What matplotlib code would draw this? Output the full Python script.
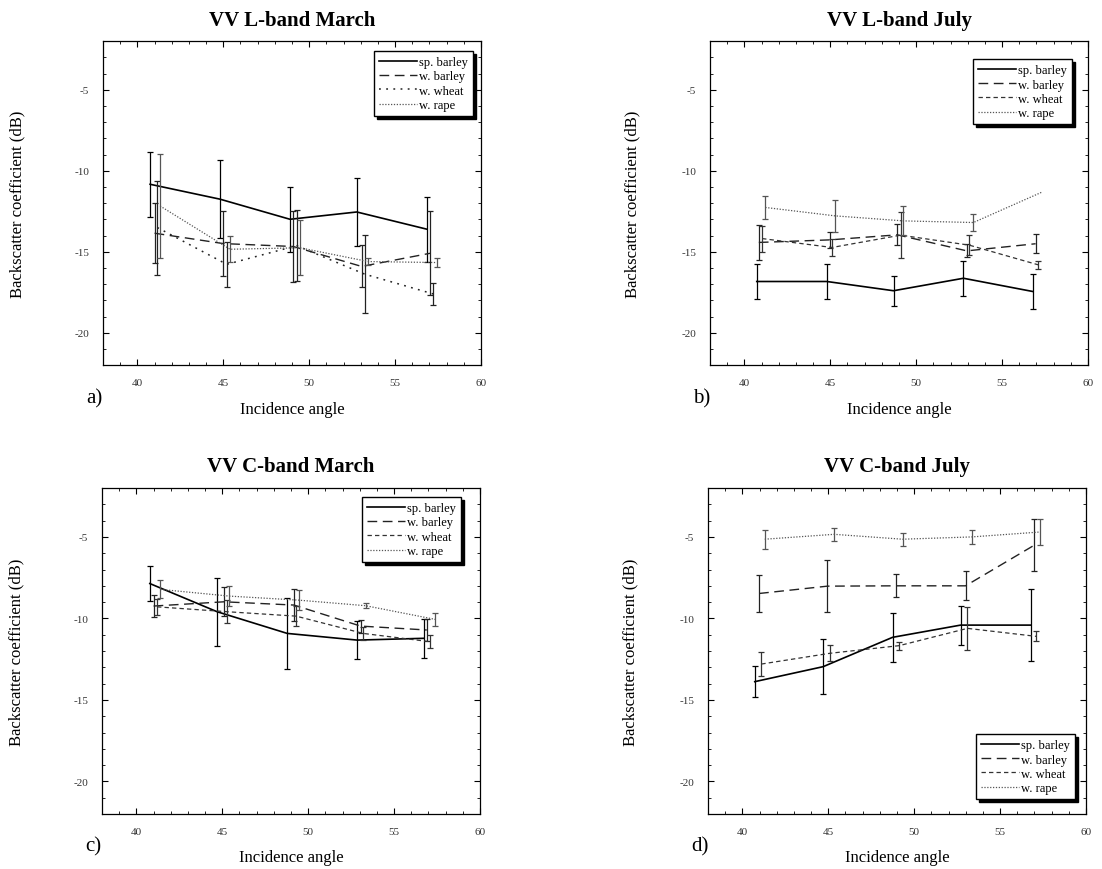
import numpy as np
import matplotlib
matplotlib.use("Agg")
import matplotlib.pyplot as plt

plt.rcParams['font.family'] = ['Liberation Serif', 'DejaVu Serif']
plt.rcParams['axes.unicode_minus'] = False

crops = ["sp. barley", "w. barley", "w. wheat", "w. rape"]
titles = ["VV L-band March", "VV L-band July", "VV C-band March", "VV C-band July"]
panel_tags = ["a)", "b)", "c)", "d)"]

# L-band March
lmar_x = [[40.74, 44.81, 48.88, 52.77, 56.84],
          [41.00, 45.00, 49.07, 53.05, 57.03],
          [41.16, 45.20, 49.27, 53.24, 57.23],
          [41.32, 45.39, 49.46, 53.44, 57.42]]
lmar_y = [[-10.83, -11.75, -12.99, -12.54, -13.60],
          [-13.85, -14.49, -14.67, -15.90, -15.09],
          [-13.50, -15.77, -14.62, -16.38, -17.60],
          [-12.17, -14.84, -14.75, -15.60, -15.66]]
lmar_err = [[2.0, 2.4, 2.0, 2.1, 2.0],
            [1.85, 2.0, 2.2, 1.3, 2.6],
            [2.9, 1.37, 2.2, 2.4, 0.65],
            [3.2, 0.8, 1.7, 0.2, 0.25]]

# L-band July
ljul_x = [[40.72, 44.80, 48.68, 52.75, 56.80],
          [40.84, 45.00, 48.90, 52.95, 56.95],
          [41.03, 45.10, 49.10, 53.10, 57.10],
          [41.22, 45.28, 49.26, 53.33, 57.35]]
ljul_y = [[-16.83, -16.83, -17.40, -16.63, -17.45],
          [-14.42, -14.26, -13.95, -14.94, -14.50],
          [-14.18, -14.73, -13.97, -14.59, -15.80],
          [-12.26, -12.78, -13.09, -13.19, -11.30]]
ljul_err = [[1.1, 1.1, 0.93, 1.07, 1.1],
            [1.1, 0.5, 0.65, 0.4, 0.6],
            [0.8, 0.5, 1.4, 0.6, 0.25],
            [0.7, 1.0, 0.9, 0.5, 0.0]]

# C-band March
cmar_x = [[40.78, 44.70, 48.78, 52.85, 56.74],
          [41.00, 45.10, 49.17, 53.05, 56.90],
          [41.20, 45.30, 49.30, 53.20, 57.10],
          [41.40, 45.40, 49.46, 53.34, 57.40]]
cmar_y = [[-7.86, -9.59, -10.92, -11.33, -11.22],
          [-9.24, -8.98, -9.18, -10.47, -10.71],
          [-9.29, -9.59, -9.86, -10.92, -11.43],
          [-8.22, -8.63, -8.88, -9.22, -10.06]]
cmar_err = [[1.1, 2.1, 2.2, 1.15, 1.2],
            [0.7, 0.9, 1.0, 0.4, 0.65],
            [0.5, 0.7, 0.6, 0.4, 0.4],
            [0.55, 0.6, 0.6, 0.15, 0.4]]

# C-band July
cjul_x = [[40.72, 44.70, 48.74, 52.70, 56.80],
          [40.97, 44.95, 48.93, 52.99, 57.00],
          [41.10, 45.09, 49.13, 53.10, 57.10],
          [41.30, 45.34, 49.32, 53.34, 57.30]]
cjul_y = [[-13.88, -12.96, -11.16, -10.41, -10.41],
          [-8.47, -8.02, -8.00, -8.00, -5.50],
          [-12.80, -12.14, -11.67, -10.61, -11.10],
          [-5.14, -4.84, -5.14, -5.00, -4.70]]
cjul_err = [[0.95, 1.7, 1.5, 1.2, 2.2],
            [1.15, 1.6, 0.7, 0.9, 1.6],
            [0.75, 0.5, 0.25, 1.3, 0.3],
            [0.58, 0.4, 0.4, 0.43, 0.8]]

panels = [(lmar_x, lmar_y, lmar_err), (ljul_x, ljul_y, ljul_err),
          (cmar_x, cmar_y, cmar_err), (cjul_x, cjul_y, cjul_err)]

# axes boxes in figure fractions [left, bottom, width, height]
boxes = [[0.0935, 0.579, 0.343, 0.3725],
         [0.6443, 0.579, 0.343, 0.3725],
         [0.0926, 0.0632, 0.343, 0.3747],
         [0.6425, 0.0632, 0.343, 0.3747]]
legend_loc = ["upper right", "upper right", "upper right", "lower right"]
legend_anchor = [(0.979, 0.969), (0.958, 0.944), (0.95, 0.972), (0.971, 0.046)]
ylab_x = [-0.206, -0.185, -0.206, -0.185]

styles = [dict(ls="-", lw=1.2, color="black"),
          dict(dashes=(7, 4), lw=1.0, color="#222222"),
          dict(dashes=(3.5, 2.5), lw=0.9, color="#333333"),
          dict(dashes=(1, 1.3), lw=0.9, color="#555555")]
wheat_dots = dict(dashes=(1.2, 3.5), lw=1.1, color="#222222")

fig = plt.figure(figsize=(11.02, 8.70), dpi=100)

for i, (xs, ys, errs) in enumerate(panels):
    ax = fig.add_axes(boxes[i])
    for j in range(4):
        st = styles[j]
        if i == 0 and j == 2:
            st = wheat_dots
        ax.plot(xs[j], ys[j], label=crops[j], **st)
        x = np.array(xs[j]); y = np.array(ys[j]); e = np.array(errs[j])
        keep = e > 0
        ax.errorbar(x[keep], y[keep], yerr=e[keep], fmt="none",
                    ecolor=st["color"], elinewidth=0.9, capsize=2.4, capthick=0.9)

    ax.set_xlim(38, 60)
    ax.set_ylim(-22, -2)
    ax.set_xticks([40, 45, 50, 55, 60])
    ax.set_yticks([-20, -15, -10, -5])
    ax.set_xticks(np.arange(38, 61, 1), minor=True)
    ax.set_yticks(np.arange(-22, -1, 1), minor=True)
    ax.tick_params(which="both", direction="in", top=True, right=True,
                   labelsize=8, labelcolor="#333333")
    ax.tick_params(which="major", length=4, width=0.8)
    ax.tick_params(which="minor", length=2.2, width=0.6)
    ax.tick_params(axis="x", pad=9)
    ax.tick_params(axis="y", pad=10)
    for sp in ax.spines.values():
        sp.set_linewidth(0.9)

    ax.set_title(titles[i], fontsize=15, fontweight="bold", pad=12)
    ax.set_xlabel("Incidence angle", fontsize=12, labelpad=10)
    ax.set_ylabel("Backscatter coefficient (dB)", fontsize=12)
    ax.yaxis.set_label_coords(ylab_x[i], 0.5)

    leg = ax.legend(loc=legend_loc[i], bbox_to_anchor=legend_anchor[i],
                    fontsize=9, handlelength=3.0,
                    handletextpad=0.2, labelspacing=0.18, borderpad=0.4,
                    fancybox=False, shadow=dict(color="black", alpha=1.0),
                    framealpha=1, edgecolor="black", borderaxespad=0.0)
    leg.get_frame().set_linewidth(1.0)

    bx = boxes[i]
    fig.text(bx[0] - 0.0075, bx[1] - 0.026, panel_tags[i], fontsize=15,
             ha="center", va="top")

fig.savefig("out.png", dpi=100)
